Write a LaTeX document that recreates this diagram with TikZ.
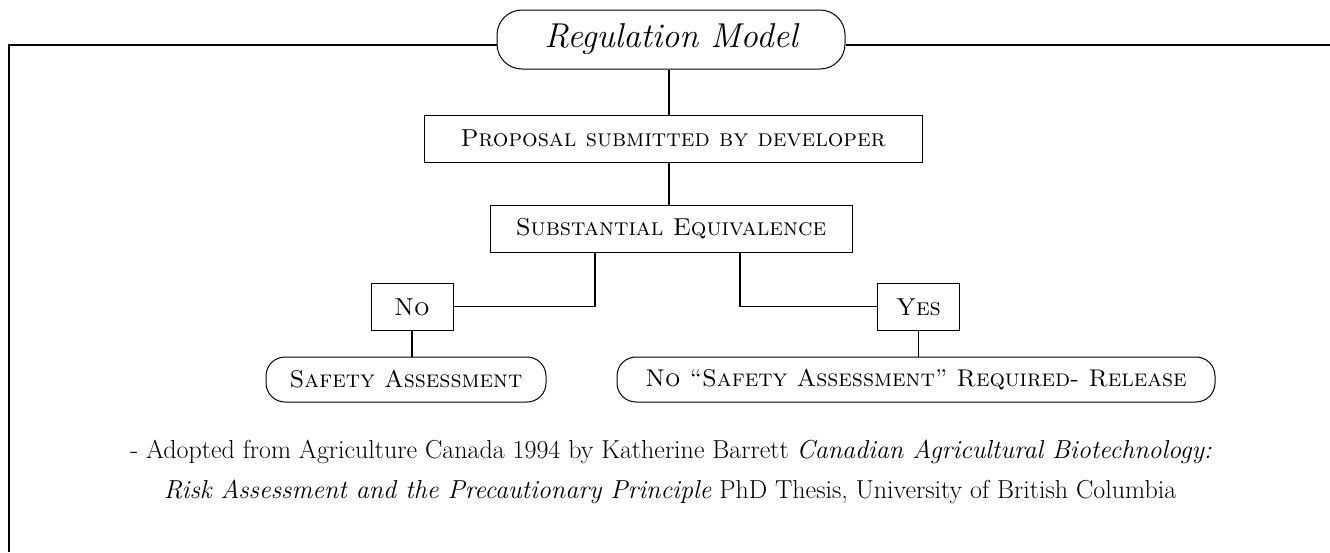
\documentclass[tikz,border=0pt]{standalone}
\usepackage{fontspec}
\begin{document}
\begin{tikzpicture}[x=1pt,y=-1pt, line width=1.1pt,
  box/.style={draw, line width=1pt, inner sep=0pt, font=\fontsize{24.5}{28}\selectfont\scshape},
  pill/.style={box, rounded corners=19pt, font=\fontsize{24.2}{28}\selectfont\scshape},
  capt/.style={anchor=base, inner sep=0pt, font=\fontsize{26}{30}\selectfont},
  link/.style={line width=1.3pt}]
\useasboundingbox (0,0) rectangle (1330,552);
\coordinate (fy) at (0,45);
\node[pill, rounded corners=25pt, minimum width=348pt, minimum height=59pt,
      font=\fontsize{34.5}{40}\selectfont\itshape] (title) at (671,39.5) {Regulation Model};
\node[box, minimum width=498pt, minimum height=47pt] (prop) at (673,138.5) {Proposal submitted by developer};
\node[box, minimum width=362pt, minimum height=47pt] (subst) at (671,228.5) {Substantial Equivalence};
\node[box, minimum width=82pt, minimum height=47pt] (no) at (412,306.8) {No};
\node[box, minimum width=82pt, minimum height=47pt] (yes) at (918.5,306.8) {Yes};
\node[pill, minimum width=280pt, minimum height=45pt] (safe) at (406,379.5) {Safety Assessment};
\node[pill, minimum width=598pt, minimum height=45pt] (rel) at (916,379.5) {No ``Safety Assessment'' Required- Release};
\node[capt] (cap1) at (671,458)
  {- Adopted from Agriculture Canada 1994 by Katherine Barrett \textit{Canadian Agricultural Biotechnology:}};
\node[capt] (cap2) at (670,498)
  {\textit{Risk Assessment and the Precautionary Principle} PhD Thesis, University of British Columbia};
% frame
\draw[link] (title.west |- fy) -- (9,45) -- (9,552);
\draw[link] (title.east |- fy) -- (1330,45);
% connectors
\draw[link] ([xshift=-2pt]title.south) -- ([xshift=-2pt]title.south |- prop.north);
\draw[link] ([xshift=-2pt]title.south |- prop.south) -- ([xshift=-2pt]title.south |- subst.north);
\draw[link] ([xshift=-76pt]subst.south) |- (no.east);
\draw[link] ([xshift=69pt]subst.south) |- (yes.west);
\draw[link] (no.south) -- (no.south |- safe.north);
\draw[link] (yes.south) -- (yes.south |- rel.north);
\end{tikzpicture}
\end{document}
